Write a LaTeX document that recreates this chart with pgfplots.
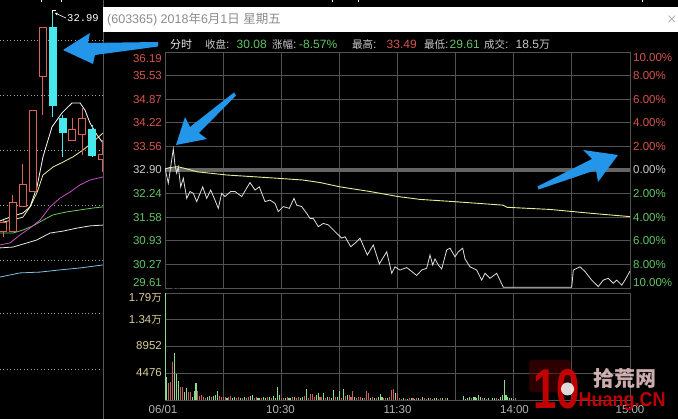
\documentclass[border=0pt]{standalone}
\usepackage{pgfplots}
\pgfplotsset{compat=1.18}
\usetikzlibrary{arrows.meta}
\usepackage{fontspec}
\setmainfont{Liberation Sans}
\newfontfamily\cjk{Noto Sans CJK SC}
\newfontfamily\mono{Liberation Mono}

\definecolor{gridc}{RGB}{82,82,82}
\definecolor{zeroc}{RGB}{100,100,100}
\definecolor{upred}{RGB}{214,84,76}
\definecolor{dngreen}{RGB}{98,196,98}
\definecolor{lblgray}{RGB}{200,200,200}
\definecolor{kred}{RGB}{214,98,88}
\definecolor{kcyan}{RGB}{70,232,235}
\definecolor{avgyellow}{RGB}{236,236,150}
\definecolor{volgreen}{RGB}{140,218,140}
\definecolor{volred}{RGB}{200,96,96}
\definecolor{volkhaki}{RGB}{216,206,150}
\definecolor{arrowblue}{RGB}{36,150,234}
\definecolor{ma10}{RGB}{240,240,160}
\definecolor{ma20}{RGB}{200,80,200}
\definecolor{ma30}{RGB}{110,200,95}
\definecolor{ma60}{RGB}{232,232,220}
\definecolor{ma120}{RGB}{130,190,225}

\begin{document}
\begin{tikzpicture}
\path[use as bounding box, fill=black] (0pt,0pt) rectangle (678pt,419pt);

% ---------- daily candlesticks (left strip) ----------
\begin{axis}[
  at={(0pt,129pt)}, anchor=south west,
  width=103pt, height=290pt, scale only axis,
  xmin=-0.3, xmax=10.1, ymin=22.909, ymax=33.4545,
  axis line style={draw=none},
  xtick=\empty, ytick={24,26,28,30,32}, yticklabels={},
  major tick length=0pt,
  ymajorgrids, grid style={gray!75, line width=0.6pt, dash pattern=on 0.8pt off 2.6pt},
]
% moving averages
\addplot[ma120, line width=0.8pt] coordinates {(-0.30,23.38) (1.72,23.53) (3.74,23.56) (5.76,23.64) (7.78,23.71) (10.10,23.82)};
\addplot[ma60, line width=0.8pt] coordinates {(-0.30,24.44) (1.01,24.47) (2.42,24.62) (3.43,24.73) (4.75,24.98) (6.06,25.05) (7.47,25.16) (8.79,25.24) (10.10,25.27)};
\addplot[ma30, line width=0.8pt] coordinates {(-0.30,24.98) (1.01,24.98) (2.02,25.09) (3.03,25.24) (4.04,25.45) (5.05,25.64) (6.46,25.75) (7.78,25.82) (9.09,25.89) (10.10,25.93)};
\addplot[ma20, line width=0.8pt] coordinates {(-0.30,24.55) (0.71,24.62) (1.72,24.91) (2.73,25.16) (3.74,25.45) (4.75,25.93) (5.76,26.25) (6.77,26.47) (7.78,26.73) (8.79,26.91) (10.10,27.02)};
\addplot[ma10, line width=0.8pt] coordinates {(-0.30,25.35) (1.01,25.46) (2.02,25.56) (2.73,25.93) (3.43,26.44) (4.04,27.09) (5.05,27.38) (6.06,27.56) (7.07,27.75) (8.08,28.00) (9.09,28.29) (10.10,28.62)};
\addplot[white, line width=0.8pt] coordinates {(-0.30,25.42) (0.71,25.56) (2.02,25.71) (2.73,25.93) (3.43,26.65) (4.04,27.75) (4.95,28.84) (5.96,29.35) (6.97,29.71) (7.78,29.71) (8.28,29.45) (8.79,28.98) (9.49,28.55) (10.10,28.25)};
% candles: wick, then body
\addplot[kred, line width=0.9pt] coordinates {(0,24.84) (0,25.45)};
\addplot[kred, fill=black, line width=0.9pt] coordinates {(-0.35,25.02) (0.35,25.02) (0.35,25.38) (-0.35,25.38)} --cycle;
\addplot[kred, line width=0.9pt] coordinates {(1,25.02) (1,26.36)};
\addplot[kred, fill=black, line width=0.9pt] coordinates {(0.65,25.02) (1.35,25.02) (1.35,26.11) (0.65,26.11)} --cycle;
\addplot[kred, line width=0.9pt] coordinates {(2,25.93) (2,27.49)};
\addplot[kred, fill=black, line width=0.9pt] coordinates {(1.65,25.93) (2.35,25.93) (2.35,26.73) (1.65,26.73)} --cycle;
\addplot[kred, line width=0.9pt] coordinates {(3,26.51) (3,29.45)};
\addplot[kred, fill=black, line width=0.9pt] coordinates {(2.65,26.51) (3.35,26.51) (3.35,29.45) (2.65,29.45)} --cycle;
\addplot[kred, line width=0.9pt] coordinates {(4,29.27) (4,32.44)};
\addplot[kred, fill=black, line width=0.9pt] coordinates {(3.65,30.66) (4.35,30.66) (4.35,32.44) (3.65,32.44)} --cycle;
\addplot[kcyan, line width=0.9pt] coordinates {(5,29.20) (5,32.99)};
\addplot[kcyan, fill=kcyan, line width=0.6pt] coordinates {(4.65,32.47) (5.35,32.47) (5.35,29.64) (4.65,29.64)} --cycle;
\addplot[kcyan, line width=0.9pt] coordinates {(6,27.75) (6,29.27)};
\addplot[kcyan, fill=kcyan, line width=0.6pt] coordinates {(5.65,29.16) (6.35,29.16) (6.35,28.66) (5.65,28.66)} --cycle;
\addplot[kred, line width=0.9pt] coordinates {(7,28.36) (7,29.16)};
\addplot[kred, fill=black, line width=0.9pt] coordinates {(6.65,28.36) (7.35,28.36) (7.35,28.76) (6.65,28.76)} --cycle;
\addplot[kred, line width=0.9pt] coordinates {(8,27.82) (8,29.53)};
\addplot[kred, fill=black, line width=0.9pt] coordinates {(7.65,28.55) (8.35,28.55) (8.35,29.16) (7.65,29.16)} --cycle;
\addplot[kcyan, line width=0.9pt] coordinates {(9,27.75) (9,28.90)};
\addplot[kcyan, fill=kcyan, line width=0.6pt] coordinates {(8.65,28.76) (9.35,28.76) (9.35,27.82) (8.65,27.82)} --cycle;
\addplot[kred, line width=0.9pt] coordinates {(10,27.20) (10,28.36)};
\addplot[kred, fill=black, line width=0.9pt] coordinates {(9.65,27.67) (10.35,27.67) (10.35,27.82) (9.65,27.82)} --cycle;
\end{axis}

% ---------- intraday price panel ----------
\begin{axis}[
  at={(165pt,131pt)}, anchor=south west,
  width=465pt, height=236pt, scale only axis,
  xmin=0, xmax=240, ymin=29.61, ymax=36.19,
  xtick={0,30,...,240},
  ytick={29.61,30.268,30.926,31.584,32.242,32.9,33.558,34.216,34.874,35.532,36.19},
  xticklabels={}, yticklabels={}, major tick length=0pt,
  grid=major, grid style={gridc, line width=0.8pt},
  axis line style={gridc, line width=0.8pt},
]
% previous close
\addplot[zeroc, line width=3.2pt] coordinates {(0,32.9) (240,32.9)};
% average price
\addplot[avgyellow, line width=0.9pt] coordinates {(0,32.93) (2.58,32.97) (6.71,32.99) (9.81,32.95) (16.52,32.85) (32.00,32.76) (57.81,32.67) (71.23,32.62) (80.00,32.55) (90.32,32.43) (105.81,32.30) (120.26,32.16) (131.61,32.08) (148.65,32.02) (174.45,31.92) (176.52,31.86) (198.71,31.80) (220.39,31.69) (240,31.60)};
% last price
\addplot[white!88!black, line width=0.8pt] coordinates {
(0,32.95) (1.70,32.53) (2.58,32.85) (4.28,33.49) (5.16,33.04) (6.04,32.81) (6.86,32.99) (8.10,32.43) (9.45,32.67) (11.20,32.11)
(12.90,32.30) (14.61,32.25) (16.36,32.02) (19.46,32.43) (21.52,32.11) (23.59,32.34) (25.81,32.06) (27.51,31.83) (29.26,32.25) (30.97,32.16)
(33.91,32.30) (36.13,32.30) (39.59,32.16) (43.87,32.55) (46.45,32.34) (48.67,32.43) (51.61,32.02) (54.19,32.06) (56.77,31.97) (58.48,31.74)
(61.06,31.88) (64.15,31.83) (66.58,32.11) (67.97,31.92) (70.55,31.88) (73.14,31.69) (74.84,31.55) (76.54,31.55) (79.12,31.32) (81.70,31.41)
(84.28,31.37) (87.74,31.18) (91.20,31.00) (92.90,31.04) (95.85,30.76) (98.94,30.90) (100.65,31.00) (104.41,30.53) (107.51,30.81) (110.61,30.28)
(114.43,30.62) (117.01,30.02) (118.71,30.20) (121.29,30.11) (124.75,30.18) (127.33,30.07) (129.91,29.96) (132.49,30.11) (135.07,30.16) (136.77,30.53)
(138.17,30.25) (139.35,30.42) (141.06,30.25) (142.81,30.14) (145.39,30.67) (147.10,30.72) (149.68,30.48) (151.38,30.62) (153.65,30.72) (154.84,30.42)
(157.42,30.20) (160.88,30.11) (163.46,29.83) (165.16,30.02) (167.74,29.88) (171.20,30.02) (174.61,29.63) (209.91,29.63) (210.74,30.11) (214.19,30.20)
(216.77,30.07) (220.23,29.83) (223.64,29.65) (226.22,29.83) (228.80,29.88) (231.38,29.74) (233.14,29.83) (235.72,29.69) (237.42,29.83) (240,30.08)};
\end{axis}

% ---------- volume panel ----------
\begin{axis}[
  at={(165pt,19pt)}, anchor=south west,
  width=465pt, height=107pt, scale only axis,
  xmin=0, xmax=240, ymin=0, ymax=17904,
  xtick={0,30,...,240}, ytick={0,4476,8952,13428,17904},
  xticklabels={}, yticklabels={}, major tick length=0pt,
  grid=major, grid style={gridc, line width=0.8pt},
  axis line style={gridc, line width=0.8pt},
]
\addplot[ycomb, volgreen, line width=1.1pt] coordinates {
(0,17904) (1,3800) (5,7920) (6,4350) (7,3230) (10,1390) (11,1950) (14,560) (15,1510) (16,2790)
(22,560) (23,670) (25,670) (26,840) (27,1510) (32,340) (35,340) (36,450) (39,340) (41,450)
(44,670) (45,840) (48,250) (49,340) (51,450) (52,340) (54,450) (56,670) (57,340) (58,2230)
(59,840) (62,340) (64,250) (65,340) (67,450) (70,340) (71,450) (73,1780) (78,840) (79,1120)
(82,1120) (84,450) (86,340) (87,1670) (89,560) (90,1560) (92,1840) (94,840) (98,450) (102,340)
(106,340) (108,250) (110,450) (111,950) (112,450) (115,250) (119,1120)
(123,280) (125,200) (127,340) (129,200) (131,280) (133,450) (136,340) (139,340) (140,280) (143,340)
(146,340) (154,670) (155,200) (156,280) (157,450) (159,450) (160,560) (161,280) (162,840) (163,560)
(165,340) (167,280) (169,280) (170,340) (172,200) (173,560) (174,840) (175,3350) (176,840) (177,450)
(178,280) (179,340) (180,200)};
\addplot[ycomb, volred, line width=1.1pt] coordinates {
(2,2790) (3,3010) (4,6410) (8,2230) (9,2230) (12,1390) (13,1390) (17,1510) (18,670) (19,840)
(20,450) (21,400) (24,450) (28,670) (29,450) (30,450) (31,560) (33,450) (34,670) (37,340)
(38,560) (40,250) (42,340) (43,560) (46,340) (47,450) (50,250) (53,560) (55,250) (60,340)
(61,250) (63,450) (66,560) (68,250) (69,560) (72,670) (74,340) (75,950) (76,950) (77,560)
(80,560) (81,450) (83,340) (85,560) (88,450) (91,340) (93,670) (95,840) (96,560) (97,1560)
(99,340) (100,450) (101,560) (103,250) (104,1510) (105,1120) (107,450) (109,340) (113,250) (114,340)
(116,560) (117,1670) (118,1780) (120,1120)
(121,280) (122,200) (124,170) (126,280) (128,280) (130,340) (132,200) (134,280) (135,200) (137,280)
(138,200) (141,200) (142,280) (145,280) (158,340) (164,280) (166,200) (171,280) (181,280)};
\end{axis}

% ---------- frame, labels and notes (pixel grid, y downwards) ----------
\begin{scope}[shift={(0pt,419pt)}, x=1pt, y=-1pt,
  lbl/.style={inner sep=0pt, font=\fontsize{11.5}{13}\selectfont},
  info/.style={inner sep=0pt, anchor=west, font=\fontsize{12}{14}\selectfont}]
% strip separator and lower dotted guides
\draw[gray!70!black, line width=0.8pt] (103,0) -- (103,419);
\draw[gray!75, line width=0.6pt, dash pattern=on 0.8pt off 2.6pt] (0,313) -- (102,313) (0,369) -- (102,369);
% small marks along the top edge
\draw[white, line width=0.7pt] (41,0) -- (41,2.5) (61,0) -- (61,2.5) (332,0) -- (332,2.5) (358,0) -- (358,2.5) (642,0) -- (642,2.5);
% highest price note
\draw[white, line width=0.6pt] (52.5,13) -- (52.5,10) -- (56,10);
\draw[white, line width=0.6pt, -{Stealth[length=3pt,width=3pt]}] (66,18) -- (55,13);
\node[anchor=west, inner sep=0pt, text=white, font=\mono\fontsize{10.5}{12}\selectfont] at (67,18.5) {32.99};

% title bar
\fill[white] (103,7) rectangle (678,32);
\node[anchor=west, inner sep=0pt, text=black!45, font=\fontsize{12.5}{14}\selectfont] at (107,19.5)
  {(603365) 2018{\cjk 年}6{\cjk 月}1{\cjk 日} {\cjk 星期五}};
\node[anchor=east, inner sep=0pt, text=black!40, font=\fontsize{11}{13}\selectfont] at (677.5,19.5) {\cjk ×};

% quote line
\node[info, text=white!92!black] at (170,44.5) {\cjk\fontsize{11}{14}\selectfont 分时};
\node[info, text=lblgray] at (205,44.5) {{\cjk\fontsize{10.5}{14}\selectfont 收盘}:};
\node[info, text=dngreen] at (236.5,44.5) {30.08};
\node[info, text=lblgray] at (272,44.5) {{\cjk\fontsize{10.5}{14}\selectfont 涨幅}:};
\node[info, text=dngreen] at (299,44.5) {-8.57\%};
\node[info, text=lblgray] at (352,44.5) {{\cjk\fontsize{10.5}{14}\selectfont 最高}:};
\node[info, text=upred] at (386.5,44.5) {33.49};
\node[info, text=lblgray] at (424,44.5) {{\cjk\fontsize{10.5}{14}\selectfont 最低}:};
\node[info, text=dngreen] at (449.5,44.5) {29.61};
\node[info, text=lblgray] at (484,44.5) {{\cjk\fontsize{10.5}{14}\selectfont 成交}:};
\node[info, text=lblgray] at (515.5,44.5) {18.5{\cjk\fontsize{11}{14}\selectfont 万}};

% price scale (left)
\foreach \v/\y in {36.19/59,35.53/75.6,34.87/99.2,34.22/122.8,33.56/146.4}
  \node[lbl, anchor=east, text=upred] at (162,\y) {\v};
\node[lbl, anchor=east, text=lblgray] at (162,170) {32.90};
\foreach \v/\y in {32.24/193.6,31.58/217.2,30.93/240.8,30.27/264.4,29.61/283}
  \node[lbl, anchor=east, text=dngreen] at (162,\y) {\v};
% percentage scale (right)
\foreach \v/\y in {10.00/58,8.00/75.6,6.00/99.2,4.00/122.8,2.00/146.4}
  \node[lbl, anchor=west, text=upred] at (633,\y) {\v\%};
\node[lbl, anchor=west, text=lblgray] at (633,170) {0.00\%};
\foreach \v/\y in {2.00/193.6,4.00/217.2,6.00/240.8,8.00/264.4,10.00/283}
  \node[lbl, anchor=west, text=dngreen] at (633,\y) {\v\%};
% volume scale
\node[lbl, anchor=east, text=volkhaki] at (162,298) {1.79{\cjk\fontsize{10.5}{13}\selectfont 万}};
\node[lbl, anchor=east, text=volkhaki] at (162,320) {1.34{\cjk\fontsize{10.5}{13}\selectfont 万}};
\node[lbl, anchor=east, text=volkhaki] at (162,346) {8952};
\node[lbl, anchor=east, text=volkhaki] at (162,373) {4476};
% time axis
\node[lbl, anchor=center, text=black!30] at (163,409.5) {06/01};
\foreach \t/\x in {10:30/280.5,11:30/397.5,14:00/514.5,15:00/630}
  \node[lbl, anchor=center, text=black!30] at (\x,409.5) {\t};

% arrows
\fill[arrowblue] (63,50) -- (90,33) -- (88,43) -- (158,42) -- (158,46.5) -- (95,55) -- (93,64) -- cycle;
\fill[arrowblue] (176,145) -- (185,117) -- (190,127) -- (234,92.5) -- (236,95.5) -- (199,133) -- (207,139) -- cycle;
\fill[arrowblue] (618,155) -- (583,150) -- (592,159) -- (537.5,186.5) -- (538.5,189.5) -- (596,170) -- (598,182) -- cycle;

% watermark
\fill[red!35!black, opacity=0.5, rounded corners=3pt] (529,360) rectangle (571,392);
\node[inner sep=0pt, text=red!85!black, opacity=0.88, font=\bfseries\fontsize{56}{56}\selectfont, xscale=0.75] at (557,389) {10};
\fill[white, opacity=0.85] (567.5,389) circle (6.5);
\node[inner sep=0pt, text=white!85!red, opacity=0.8, font=\cjk\bfseries\fontsize{21}{21}\selectfont] at (625,379) {拾荒网};
\node[inner sep=0pt, text=red!85!black, opacity=0.88, font=\bfseries\fontsize{20}{20}\selectfont, xscale=0.9] at (622,402) {Huang.CN};
\end{scope}
\end{tikzpicture}
\end{document}
